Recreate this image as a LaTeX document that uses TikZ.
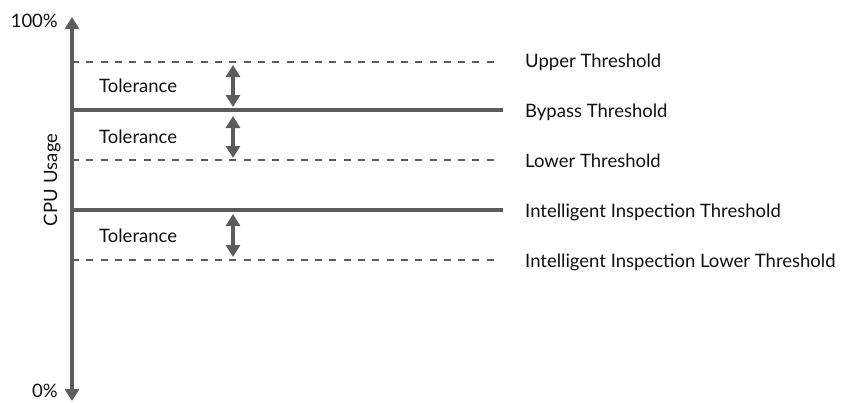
\documentclass[tikz,border=0pt]{standalone}
\usepackage{fontspec}
\setmainfont{Lato}
\usetikzlibrary{arrows.meta}
\definecolor{linegray}{HTML}{5C5C5C}
\definecolor{txt}{HTML}{111111}
\begin{document}
\begin{tikzpicture}[x=1bp,y=-1bp,
  lbl/.style={anchor=base west,inner sep=0pt,text=txt,font=\fontsize{18.5bp}{22bp}\selectfont},
  solidline/.style={draw=linegray,line width=3.2bp},
  dashline/.style={draw=linegray,line width=2.8bp,dash pattern=on 7bp off 7.3bp},
  axisline/.style={draw=linegray,line width=3.6bp,-{Triangle[width=14bp,length=12bp]}},
  tolarrow/.style={draw=linegray,line width=4bp,{Triangle[width=14bp,length=12bp]}-{Triangle[width=14bp,length=12bp]}}]
\useasboundingbox (0,0) rectangle (850,402);
\begin{scope}
\clip (0,0) rectangle (850,402);
% axis
\coordinate (axtop) at (72,17);
\coordinate (axbot) at (72,401);
\coordinate (axmid) at (72,200);
\draw[axisline] (axmid) -- (axtop);
\draw[axisline] (axmid) -- (axbot);
\node[lbl,anchor=base east] (p100) at (58,27) {100\%};
\node[lbl,anchor=base east] (p0) at (58,397) {0\%};
\node[lbl,anchor=base,rotate=90] (cpu) at (57,180) {CPU\hspace{6bp}Usage};
% thresholds
\coordinate (u0) at (72,62);  \coordinate (u1) at (500,62);
\coordinate (b0) at (72,110); \coordinate (b1) at (503,110);
\coordinate (l0) at (72,160); \coordinate (l1) at (500,160);
\coordinate (i0) at (72,210); \coordinate (i1) at (503,210);
\coordinate (j0) at (72,260); \coordinate (j1) at (500,260);
\draw[dashline] (u0) -- (u1);
\draw[solidline] (b0) -- (b1);
\draw[dashline] (l0) -- (l1);
\draw[solidline] (i0) -- (i1);
\draw[dashline] (j0) -- (j1);
\node[lbl] (tu) at (525,67) {Upper Threshold};
\node[lbl] (tb) at (525,117) {Bypass Threshold};
\node[lbl] (tl) at (525,167) {Lower Threshold};
\node[lbl] (ti) at (525,217) {Intelligent Inspection Threshold};
\node[lbl] (tj) at (525,267) {Intelligent Inspection Lower Threshold};
% tolerances
\node[lbl] (t1) at (99,92) {Tolerance};
\node[lbl] (t2) at (99,143) {Tolerance};
\node[lbl] (t3) at (99,242) {Tolerance};
\coordinate (a1) at (233,65);  \coordinate (a2) at (233,107);
\coordinate (a3) at (233,116); \coordinate (a4) at (233,158);
\coordinate (a5) at (233,214); \coordinate (a6) at (233,257);
\draw[tolarrow] (a1) -- (a2);
\draw[tolarrow] (a3) -- (a4);
\draw[tolarrow] (a5) -- (a6);
\end{scope}
\end{tikzpicture}
\end{document}
